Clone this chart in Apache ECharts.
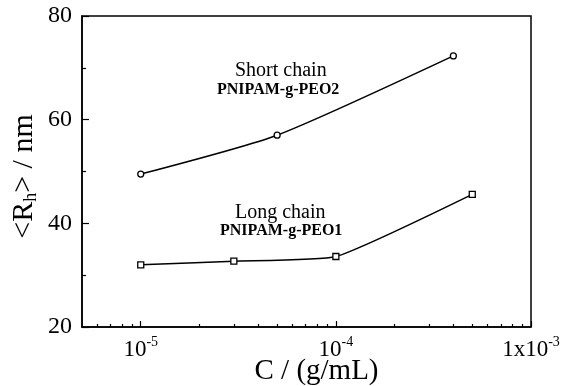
<!DOCTYPE html>
<html>
<head>
<meta charset="utf-8">
<script src="https://cdn.jsdelivr.net/npm/echarts@6/dist/echarts.min.js"></script>
<style>html,body{margin:0;padding:0;background:#fff}#c{width:572px;height:386px}</style>
</head>
<body>
<div id="c"></div>
<script>
// ---- data ----
const shortX = [1e-5, 5e-5, 4e-4];
const shortY = [49.5, 57.0, 72.3];
const longX = [1e-5, 3e-5, 1e-4, 5e-4];
const longY = [32.0, 32.7, 33.6, 45.6];
const xMajorTicks = [1e-5, 1e-4, 1e-3];
const xMinorTicks = [6e-6, 7e-6, 8e-6, 9e-6,
  2e-5, 3e-5, 4e-5, 5e-5, 6e-5, 7e-5, 8e-5, 9e-5,
  2e-4, 3e-4, 4e-4, 5e-4, 6e-4, 7e-4, 8e-4, 9e-4];
const xTickLabels = {'-5': ['10', '-5'], '-4': ['10', '-4'], '-3': ['1x10', '-3']};
const yTicks = [20, 40, 60, 80];

const FONT = '"Liberation Serif", "DejaVu Serif", serif';
const chart = echarts.init(document.getElementById('c'), null, {renderer: 'canvas'});

function pairs(xs, ys) { return xs.map((x, i) => [x, ys[i]]); }

const option = {
  animation: false,
  backgroundColor: '#fff',
  grid: {left: 82, right: 41, top: 16, bottom: 59, outerBoundsMode: 'none', containLabel: false,
    show: true, borderColor: '#000', borderWidth: 1.5, backgroundColor: 'transparent'},
  xAxis: [{
    type: 'log', logBase: 10, min: 5e-6, max: 1e-3,
    name: 'C / (g/mL)', nameLocation: 'middle', nameGap: 30, nameMoveOverlap: false,
    nameTextStyle: {fontFamily: FONT, fontSize: 29, color: '#000', padding: [0, 0, 0, 20]},
    axisLine: {lineStyle: {color: '#000', width: 1.5}},
    axisTick: {inside: true, length: 6, lineStyle: {color: '#000', width: 1.2}, customValues: xMajorTicks},
    axisLabel: {
      customValues: xMajorTicks, margin: 8, color: '#000',
      formatter: function (v) {
        const e = Math.round(Math.log10(v));
        const t = xTickLabels[String(e)];
        return t ? '{b|' + t[0] + '}{s|' + t[1] + '}' : '';
      },
      rich: {
        b: {fontFamily: FONT, fontSize: 23, color: '#000'},
        s: {fontFamily: FONT, fontSize: 14, color: '#000', padding: [0, 0, 16, 0]}
      }
    },
    splitLine: {show: false}
  }, {
    type: 'log', logBase: 10, min: 5e-6, max: 1e-3, position: 'bottom',
    axisLine: {show: false},
    axisTick: {inside: true, length: 3, lineStyle: {color: '#000', width: 1.2}, customValues: xMinorTicks},
    axisLabel: {show: false},
    splitLine: {show: false}
  }],
  yAxis: {
    type: 'value', min: 20, max: 80, interval: 20,
    name: '<R{sub|h}> / nm', nameLocation: 'middle', nameGap: 42, nameRotate: 90, nameMoveOverlap: false,
    nameTextStyle: {fontFamily: FONT, fontSize: 30, color: '#000', padding: [0, 10, 0, 0],
      rich: {sub: {fontFamily: FONT, fontSize: 18, color: '#000', padding: [14, 0, 0, 0]}}},
    axisLine: {show: true, lineStyle: {color: '#000', width: 1.5}},
    axisTick: {inside: true, length: 7, lineStyle: {color: '#000', width: 1.2}},
    minorTick: {show: true, splitNumber: 2, length: 4, lineStyle: {color: '#000', width: 1.2}},
    axisLabel: {fontFamily: FONT, fontSize: 24, color: '#000', margin: 10,
      customValues: yTicks},
    splitLine: {show: false}
  },
  series: [{
    name: 'Short chain', type: 'line', data: pairs(shortX, shortY), smooth: 0.2,
    symbol: 'circle', symbolSize: 6, showAllSymbol: true,
    lineStyle: {color: '#000', width: 1.5},
    itemStyle: {color: '#fff', borderColor: '#000', borderWidth: 1.3}
  }, {
    name: 'Long chain', type: 'line', data: pairs(longX, longY), smooth: 0.15,
    symbol: 'rect', symbolSize: 6, showAllSymbol: true,
    lineStyle: {color: '#000', width: 1.5},
    itemStyle: {color: '#fff', borderColor: '#000', borderWidth: 1.3}
  }],
  graphic: [
    {type: 'text', left: 235, top: 61, style: {text: 'Short chain', font: '20px ' + FONT, fill: '#000'}},
    {type: 'text', left: 217, top: 82, style: {text: 'PNIPAM-g-PEO2', font: 'bold 16px ' + FONT, fill: '#000'}},
    {type: 'text', left: 235, top: 203, style: {text: 'Long chain', font: '20px ' + FONT, fill: '#000'}},
    {type: 'text', left: 220, top: 223, style: {text: 'PNIPAM-g-PEO1', font: 'bold 16px ' + FONT, fill: '#000'}}
  ]
};
chart.setOption(option);
</script>
</body>
</html>
